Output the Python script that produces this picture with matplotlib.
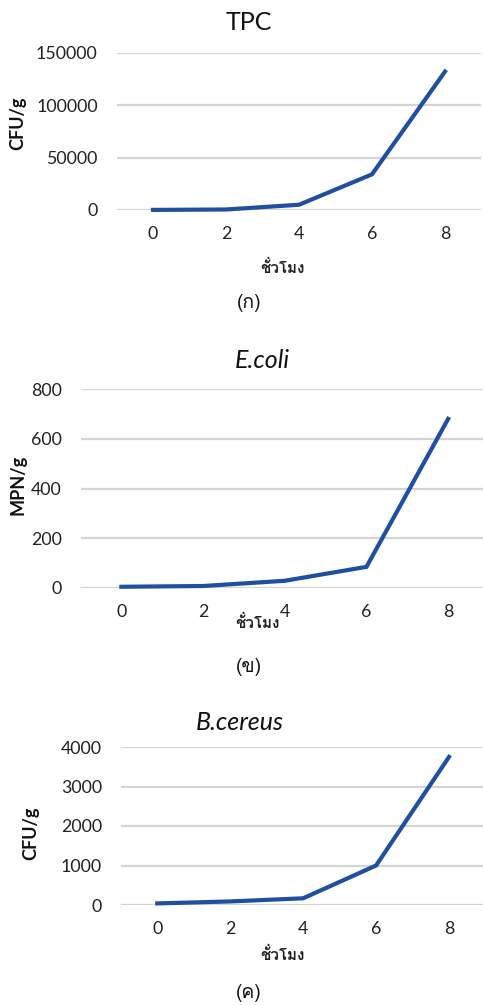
import matplotlib
matplotlib.use("Agg")
import matplotlib.pyplot as plt
from matplotlib import font_manager

# ---- data ----
hours = [0, 2, 4, 6, 8]
tpc = [100, 500, 5000, 34000, 132000]
ecoli = [5, 8, 29, 85, 680]
bcereus = [40, 90, 170, 1000, 3750]

titles = ["TPC", "E.coli", "B.cereus"]
title_italic = [False, True, True]
ylabels = ["CFU/g", "MPN/g", "CFU/g"]
xlabel = "ชั่วโมง"
captions = ["(ก)", "(ข)", "(ค)"]
yticks_list = [[0, 50000, 100000, 150000], [0, 200, 400, 600, 800], [0, 1000, 2000, 3000, 4000]]

# ---- find a font with Thai glyphs ----
thai_family = None
try:
    from fontTools.ttLib import TTFont
    for fe in font_manager.fontManager.ttflist:
        try:
            f = TTFont(fe.fname, fontNumber=0, lazy=True)
            cmap = f.getBestCmap()
            if cmap and 0x0E0A in cmap and 0x0E42 in cmap:
                thai_family = fe.name
                break
        except Exception:
            continue
except Exception:
    pass
thai_fam = [thai_family, "DejaVu Sans"] if thai_family else ["DejaVu Sans"]

W, H = 483, 1006
fig = plt.figure(figsize=(W / 100, H / 100), dpi=100)

def fx(x):
    return x / W

def fy(y):
    return 1 - y / H

LINE = "#1f4fa0"
GRID = "#d4d4d4"

# pixel layout: left, right, top(ymax gridline), bottom(0 gridline)
layouts = [
    dict(l=116.5, r=481.5, t=52.7, b=210, title=(249, 23), ylab=(18, 123), xlab=(283, 268), cap=(249, 303)),
    dict(l=80.5, r=489.0, t=389, b=588, title=(262, 360), ylab=(18, 485), xlab=(258, 623), cap=(249, 667)),
    dict(l=120.8, r=485.5, t=747, b=905, title=(240, 723), ylab=(31, 833), xlab=(283, 955), cap=(249, 993)),
]
series = [tpc, ecoli, bcereus]

for i, L in enumerate(layouts):
    ax = fig.add_axes([fx(L["l"]), fy(L["b"]), (L["r"] - L["l"]) / W, (L["b"] - L["t"]) / H])
    ax.plot(hours, series[i], color=LINE, lw=3.0, solid_joinstyle="miter", clip_on=False, zorder=3)
    ax.set_xlim(-1, 9)
    yt = yticks_list[i]
    ax.set_ylim(yt[0], yt[-1])
    ax.set_yticks(yt)
    ax.set_yticklabels([str(v) for v in yt])
    ax.set_xticks(hours)
    ax.set_xticklabels([str(h) for h in hours])
    for s in ax.spines.values():
        s.set_visible(False)
    ax.yaxis.grid(True, color=GRID, lw=1.6, zorder=0)
    ax.set_axisbelow(True)
    ax.tick_params(axis="both", length=0, labelsize=12.8, colors="#222222")
    ax.tick_params(axis="y", pad=13.5)
    ax.tick_params(axis="x", pad=11.5)
    for lab in ax.get_xticklabels() + ax.get_yticklabels():
        lab.set_fontfamily(["Lato", "DejaVu Sans"])
    ax.patch.set_alpha(0)

    tx, ty = L["title"]
    fig.text(fx(tx), fy(ty), titles[i], ha="center", va="center", fontsize=18,
             family=["Lato", "DejaVu Sans"], style="italic" if title_italic[i] else "normal", color="#111111")
    yx, yy = L["ylab"]
    fig.text(fx(yx), fy(yy), ylabels[i], ha="center", va="center", rotation=90, fontsize=13,
             fontweight="bold", family=["Lato", "DejaVu Sans"], color="#111111")
    xx, xy = L["xlab"]
    fig.text(fx(xx), fy(xy), xlabel, ha="center", va="center", fontsize=11, fontweight="bold",
             family=thai_fam, color="#222222")
    cx, cy = L["cap"]
    fig.text(fx(cx), fy(cy), captions[i], ha="center", va="center", fontsize=14,
             family=thai_fam, color="#111111")

fig.savefig("out.png", dpi=100)
